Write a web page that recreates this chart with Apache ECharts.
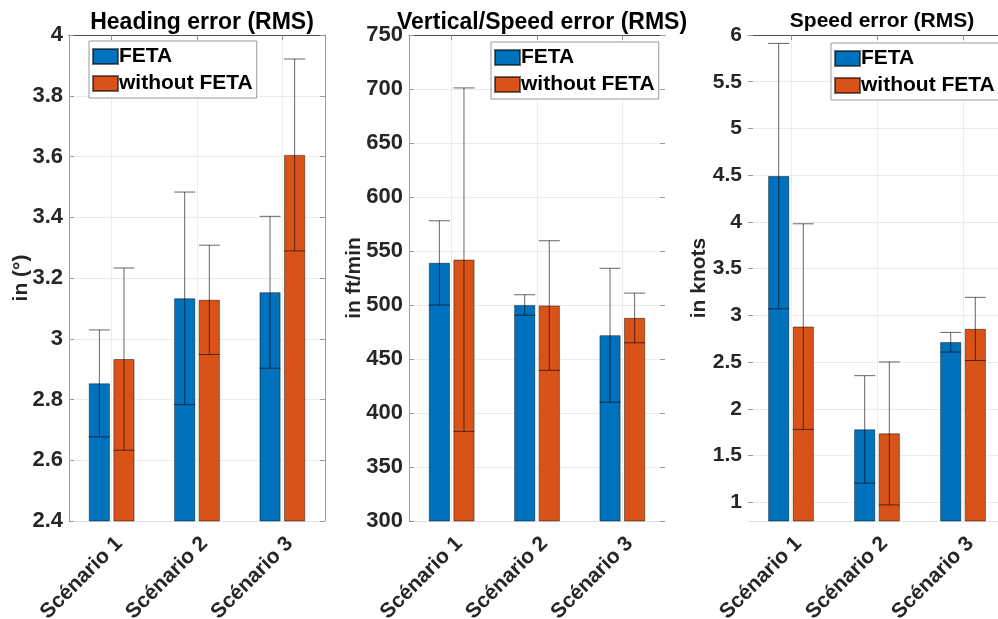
<!DOCTYPE html>
<html>
<head>
<meta charset="utf-8">
<script src="https://cdn.jsdelivr.net/npm/echarts@6/dist/echarts.min.js"></script>
<style>
  html, body { margin: 0; padding: 0; background: #fff; }
  #chart { width: 998px; height: 619px; }
</style>
</head>
<body>
<div id="chart"></div>
<script>
// Scenario labels shared by the three panels
const scenarios = ['Scénario 1', 'Scénario 2', 'Scénario 3'];
const seriesNames = ['FETA', 'without FETA'];

// Heading error (RMS), degrees: mean and half-width of the spread
const headingFeta = [2.853, 3.133, 3.153];
const headingFetaErr = [0.176, 0.35, 0.25];
const headingNoFeta = [2.933, 3.128, 3.605];
const headingNoFetaErr = [0.30, 0.18, 0.316];
const headingTicks = [2.4, 2.6, 2.8, 3, 3.2, 3.4, 3.6, 3.8, 4];

// Vertical speed error (RMS), ft/min
const vsFeta = [539, 500, 472];
const vsFetaErr = [39, 9.5, 62];
const vsNoFeta = [542, 499.5, 488];
const vsNoFetaErr = [159, 60, 23];
const vsTicks = [300, 350, 400, 450, 500, 550, 600, 650, 700, 750];

// Speed error (RMS), knots
const speedFeta = [4.49, 1.78, 2.713];
const speedFetaErr = [1.42, 0.575, 0.105];
const speedNoFeta = [2.88, 1.737, 2.855];
const speedNoFetaErr = [1.1, 0.765, 0.338];
const speedTicks = [1, 1.5, 2, 2.5, 3, 3.5, 4, 4.5, 5, 5.5, 6];

const BLUE = '#0072BD';
const ORANGE = '#D95319';
const FONT = '"Liberation Sans", Arial, Helvetica, sans-serif';
const BAR_W = 21;
const BAR_GAP = 3.6;
const TXT = '#262626';

const chart = echarts.init(document.getElementById('chart'));

function errorBars(shift) {
  return function (params, api) {
    const x = api.value(0);
    const lo = api.coord([x, api.value(1)]);
    const hi = api.coord([x, api.value(2)]);
    const cx = lo[0] + shift;
    const half = BAR_W / 2;
    const style = { stroke: 'rgba(0,0,0,0.6)', lineWidth: 1 };
    return {
      type: 'group',
      children: [
        { type: 'line', shape: { x1: cx, y1: hi[1], x2: cx, y2: lo[1] }, style: style },
        { type: 'line', shape: { x1: cx - half, y1: hi[1], x2: cx + half, y2: hi[1] }, style: style },
        { type: 'line', shape: { x1: cx - half, y1: lo[1], x2: cx + half, y2: lo[1] }, style: style }
      ]
    };
  };
}

function spread(mean, err) {
  return mean.map((m, i) => [i, m - err[i], m + err[i]]);
}

const panels = [
  {
    title: 'Heading error (RMS)', titleSize: 23, yName: 'in (°)', nameGap: 37,
    left: 69, width: 256, min: 2.4, max: 4, ticks: headingTicks, labelSize: 22,
    a: headingFeta, aErr: headingFetaErr, b: headingNoFeta, bErr: headingNoFetaErr,
    leftLine: true, rightLine: true, legendLeft: 89, legendTop: 41
  },
  {
    title: 'Vertical/Speed error (RMS)', titleSize: 23, yName: 'in ft/min', nameGap: 44,
    left: 409, width: 256, min: 300, max: 750, ticks: vsTicks, labelSize: 22,
    a: vsFeta, aErr: vsFetaErr, b: vsNoFeta, bErr: vsNoFetaErr,
    leftLine: true, rightLine: false, legendLeft: 491, legendTop: 42
  },
  {
    title: 'Speed error (RMS)', titleSize: 21, yName: 'in knots', nameGap: 38,
    left: 748, width: 258, min: 0.8, max: 6, ticks: speedTicks, labelSize: 21,
    a: speedFeta, aErr: speedFetaErr, b: speedNoFeta, bErr: speedNoFetaErr,
    leftLine: false, rightLine: false, legendLeft: 831, legendTop: 43
  }
];

const option = {
  animation: false,
  backgroundColor: '#fff',
  textStyle: { fontFamily: FONT },
  title: [], legend: [], grid: [], xAxis: [], yAxis: [], series: []
};

const shift = (BAR_W + BAR_GAP) / 2;

panels.forEach((p, k) => {
  option.grid.push({
    left: p.left, top: 35, width: p.width, height: 486,
    containLabel: false, outerBoundsMode: 'none'
  });
  option.title.push({
    text: p.title, left: p.left + p.width / 2, textAlign: 'center', top: 6,
    textStyle: { fontFamily: FONT, fontWeight: 'bold', fontSize: p.titleSize, color: '#000' }
  });
  option.legend.push({
    data: seriesNames, orient: 'vertical', left: p.legendLeft, top: p.legendTop,
    backgroundColor: '#fff', borderColor: '#9a9a9a', borderWidth: 1,
    padding: [5, 4, 4, 3], itemGap: 6, itemWidth: 25, itemHeight: 15, icon: 'rect',
    selectedMode: false,
    textStyle: { fontFamily: FONT, fontWeight: 'bold', fontSize: 21, color: '#000', padding: [0, 0, 0, -4] }
  });
  // bottom category axis with labels and vertical grid lines
  option.xAxis.push({
    type: 'category', gridIndex: k, data: scenarios, position: 'bottom',
    axisLine: { show: true, lineStyle: { color: '#e2e2e2', width: 1 } },
    axisTick: { show: false, alignWithLabel: true },
    splitLine: { show: true, alignWithLabel: true, lineStyle: { color: '#ececec', width: 1 } },
    axisLabel: {
      rotate: 45, margin: 12, verticalAlign: 'top',
      fontFamily: FONT, fontWeight: 'bold', fontSize: 21, color: TXT
    }
  });
  // top frame line with inward ticks
  option.xAxis.push({
    type: 'category', gridIndex: k, data: scenarios, position: 'top',
    axisLine: { show: true, lineStyle: { color: '#4d4d4d', width: 1 } },
    axisTick: { show: true, inside: true, alignWithLabel: true, length: 5, lineStyle: { color: '#8c8c8c' } },
    axisLabel: { show: false }, splitLine: { show: false }
  });
  option.yAxis.push({
    type: 'value', gridIndex: k, min: p.min, max: p.max,
    name: p.yName, nameLocation: 'middle', nameGap: p.nameGap, nameRotate: 90,
    nameMoveOverlap: false,
    nameTextStyle: { fontFamily: FONT, fontWeight: 'bold', fontSize: 21, color: TXT },
    axisLine: { show: p.leftLine, lineStyle: { color: '#9a9a9a', width: 1 } },
    axisTick: { show: true, inside: true, length: 5, customValues: p.ticks, lineStyle: { color: '#9a9a9a' } },
    splitLine: { show: true, lineStyle: { color: '#ececec', width: 1 } },
    axisLabel: {
      margin: 6, customValues: p.ticks,
      fontFamily: FONT, fontWeight: 'bold', fontSize: p.labelSize, color: TXT
    }
  });
  option.yAxis.push({
    type: 'value', gridIndex: k, min: p.min, max: p.max, position: 'right',
    axisLine: { show: p.rightLine, lineStyle: { color: '#9a9a9a', width: 1 } },
    axisTick: { show: true, inside: true, length: 5, customValues: p.ticks, lineStyle: { color: '#9a9a9a' } },
    axisLabel: { show: false, customValues: p.ticks }, splitLine: { show: false }
  });
  const xi = k * 2, yi = k * 2;
  const barStyle = c => ({ color: c, borderColor: 'rgba(0,0,0,0.55)', borderWidth: 0.8 });
  option.series.push({
    type: 'bar', name: seriesNames[0], xAxisIndex: xi, yAxisIndex: yi, data: p.a,
    barWidth: BAR_W, barGap: (BAR_GAP / BAR_W * 100).toFixed(1) + '%', itemStyle: barStyle(BLUE)
  });
  option.series.push({
    type: 'bar', name: seriesNames[1], xAxisIndex: xi, yAxisIndex: yi, data: p.b,
    barWidth: BAR_W, barGap: (BAR_GAP / BAR_W * 100).toFixed(1) + '%', itemStyle: barStyle(ORANGE)
  });
  option.series.push({
    type: 'custom', name: 'spread-a-' + k, xAxisIndex: xi, yAxisIndex: yi, z: 5, clip: true,
    data: spread(p.a, p.aErr), encode: { x: 0, y: [1, 2] }, renderItem: errorBars(-shift)
  });
  option.series.push({
    type: 'custom', name: 'spread-b-' + k, xAxisIndex: xi, yAxisIndex: yi, z: 5, clip: true,
    data: spread(p.b, p.bErr), encode: { x: 0, y: [1, 2] }, renderItem: errorBars(shift)
  });
});

chart.setOption(option);
</script>
</body>
</html>
